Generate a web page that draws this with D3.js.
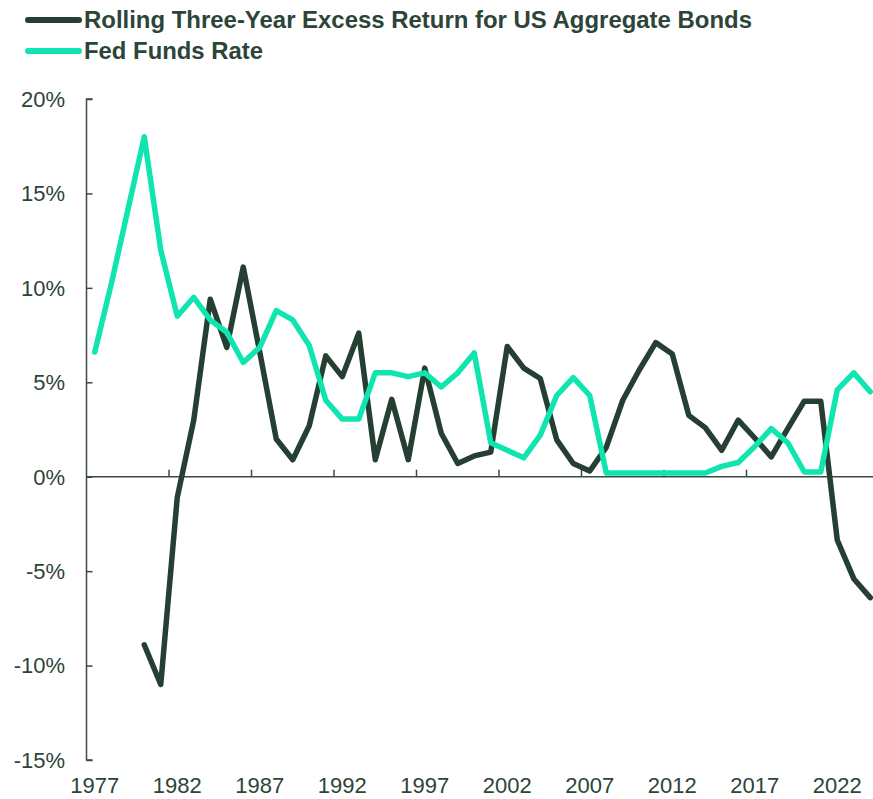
<!DOCTYPE html>
<html>
<head>
<meta charset="utf-8">
<script src="https://cdn.jsdelivr.net/npm/d3@7"></script>
<style>
  body { margin: 0; background: #fff; }
  svg text { font-family: "Liberation Sans", Arial, sans-serif; }
</style>
</head>
<body>
<div class="chart"></div>
<script>
// years on the category axis
var years = d3.range(1977, 2025);

// rolling three-year excess return, starts in 1980
var excessYears = d3.range(1980, 2025);
var excessReturn = [
  -8.9, -11.0, -1.1, 3.0, 9.4, 6.85, 11.1, 6.6, 2.0, 0.9,
  2.7, 6.4, 5.3, 7.6, 0.9, 4.1, 0.9, 5.75, 2.3, 0.7,
  1.1, 1.3, 6.9, 5.75, 5.2, 1.95, 0.7, 0.3, 1.55, 4.05,
  5.65, 7.1, 6.5, 3.25, 2.6, 1.4, 3.0, 2.05, 1.05, 2.55,
  4.0, 4.0, -3.35, -5.4, -6.4
];

var fedFunds = [
  6.6, 10.2, 14.1, 18.0, 12.0, 8.5, 9.5, 8.3, 7.65, 6.05,
  6.85, 8.8, 8.3, 6.95, 4.05, 3.05, 3.05, 5.5, 5.5, 5.3,
  5.5, 4.75, 5.5, 6.55, 1.8, 1.4, 1.0, 2.2, 4.3, 5.25,
  4.3, 0.2, 0.2, 0.2, 0.2, 0.2, 0.2, 0.2, 0.55, 0.75,
  1.6, 2.55, 1.8, 0.25, 0.25, 4.6, 5.5, 4.5
];

var yTicks = [-15, -10, -5, 0, 5, 10, 15, 20];
var xLabelYears = [1977, 1982, 1987, 1992, 1997, 2002, 2007, 2012, 2017, 2022];

var seriesNames = ["Rolling Three-Year Excess Return for US Aggregate Bonds", "Fed Funds Rate"];
var seriesColors = ["#253f33", "#10e5b0"];

var width = 873, height = 799;
var axisColor = "#3b4a42", textColor = "#2d4438";

var svg = d3.select(".chart").append("svg")
    .attr("width", width)
    .attr("height", height);

var x = d3.scaleBand()
    .domain(years)
    .range([86.5, 878.5]);

var y = d3.scaleLinear()
    .domain([-15, 20])
    .range([760, 99]);

var cx = function (yr) { return x(yr) + x.bandwidth() / 2; };

// y axis, ticks pointing into the plot
var yAxis = svg.append("g")
    .attr("transform", "translate(" + x.range()[0] + ",0)")
    .call(d3.axisRight(y).tickValues(yTicks).tickSize(6).tickFormat(""));
yAxis.select(".domain").attr("stroke", axisColor).attr("stroke-width", 1.5)
    .attr("d", "M6," + y(20) + "H0V" + y(-15) + "H6");
yAxis.selectAll(".tick line").attr("stroke", axisColor).attr("stroke-width", 1.5);

svg.append("g").selectAll("text")
    .data(yTicks)
    .enter()
    .append("text")
    .attr("x", 65)
    .attr("y", function (d) { return y(d); })
    .attr("dy", "0.36em")
    .attr("text-anchor", "end")
    .attr("font-size", 22)
    .attr("fill", textColor)
    .text(function (d) { return d + "%"; });

// x axis line on zero, ticks every five categories
var tickYears = xLabelYears.slice(1);
var xAxis = svg.append("g")
    .attr("transform", "translate(0," + y(0) + ")");
xAxis.append("line")
    .attr("x1", x.range()[0]).attr("x2", width)
    .attr("stroke", axisColor).attr("stroke-width", 1.5);
xAxis.selectAll(".xt")
    .data(tickYears)
    .enter()
    .append("line")
    .attr("class", "xt")
    .attr("x1", function (d) { return x(d); })
    .attr("x2", function (d) { return x(d); })
    .attr("y1", 0).attr("y2", -7)
    .attr("stroke", axisColor).attr("stroke-width", 1.5);

svg.append("g").selectAll("text")
    .data(xLabelYears)
    .enter()
    .append("text")
    .attr("x", function (d) { return cx(d); })
    .attr("y", 793)
    .attr("text-anchor", "middle")
    .attr("font-size", 22)
    .attr("fill", textColor)
    .text(function (d) { return d; });

// lines
var line = d3.line()
    .x(function (d) { return cx(d[0]); })
    .y(function (d) { return y(d[1]); });

svg.append("path")
    .datum(excessYears.map(function (yr, i) { return [yr, excessReturn[i]]; }))
    .attr("d", line)
    .attr("fill", "none")
    .attr("stroke", seriesColors[0])
    .attr("stroke-width", 5.5)
    .attr("stroke-linejoin", "round")
    .attr("stroke-linecap", "round");

svg.append("path")
    .datum(years.map(function (yr, i) { return [yr, fedFunds[i]]; }))
    .attr("d", line)
    .attr("fill", "none")
    .attr("stroke", seriesColors[1])
    .attr("stroke-width", 5.5)
    .attr("stroke-linejoin", "round")
    .attr("stroke-linecap", "round");

// legend
var legend = svg.append("g").selectAll("g")
    .data(seriesNames)
    .enter()
    .append("g")
    .attr("transform", function (d, i) { return "translate(0," + (20 + i * 31) + ")"; });

legend.append("line")
    .attr("x1", 28).attr("x2", 79)
    .attr("stroke", function (d, i) { return seriesColors[i]; })
    .attr("stroke-width", 6)
    .attr("stroke-linecap", "round");

legend.append("text")
    .attr("x", 84)
    .attr("dy", "0.36em")
    .attr("font-size", 23)
    .attr("font-weight", "bold")
    .attr("fill", textColor)
    .attr("textLength", function (d, i) { return i === 0 ? 668 : 179; })
    .attr("lengthAdjust", "spacingAndGlyphs")
    .text(function (d) { return d; });
</script>
</body>
</html>
